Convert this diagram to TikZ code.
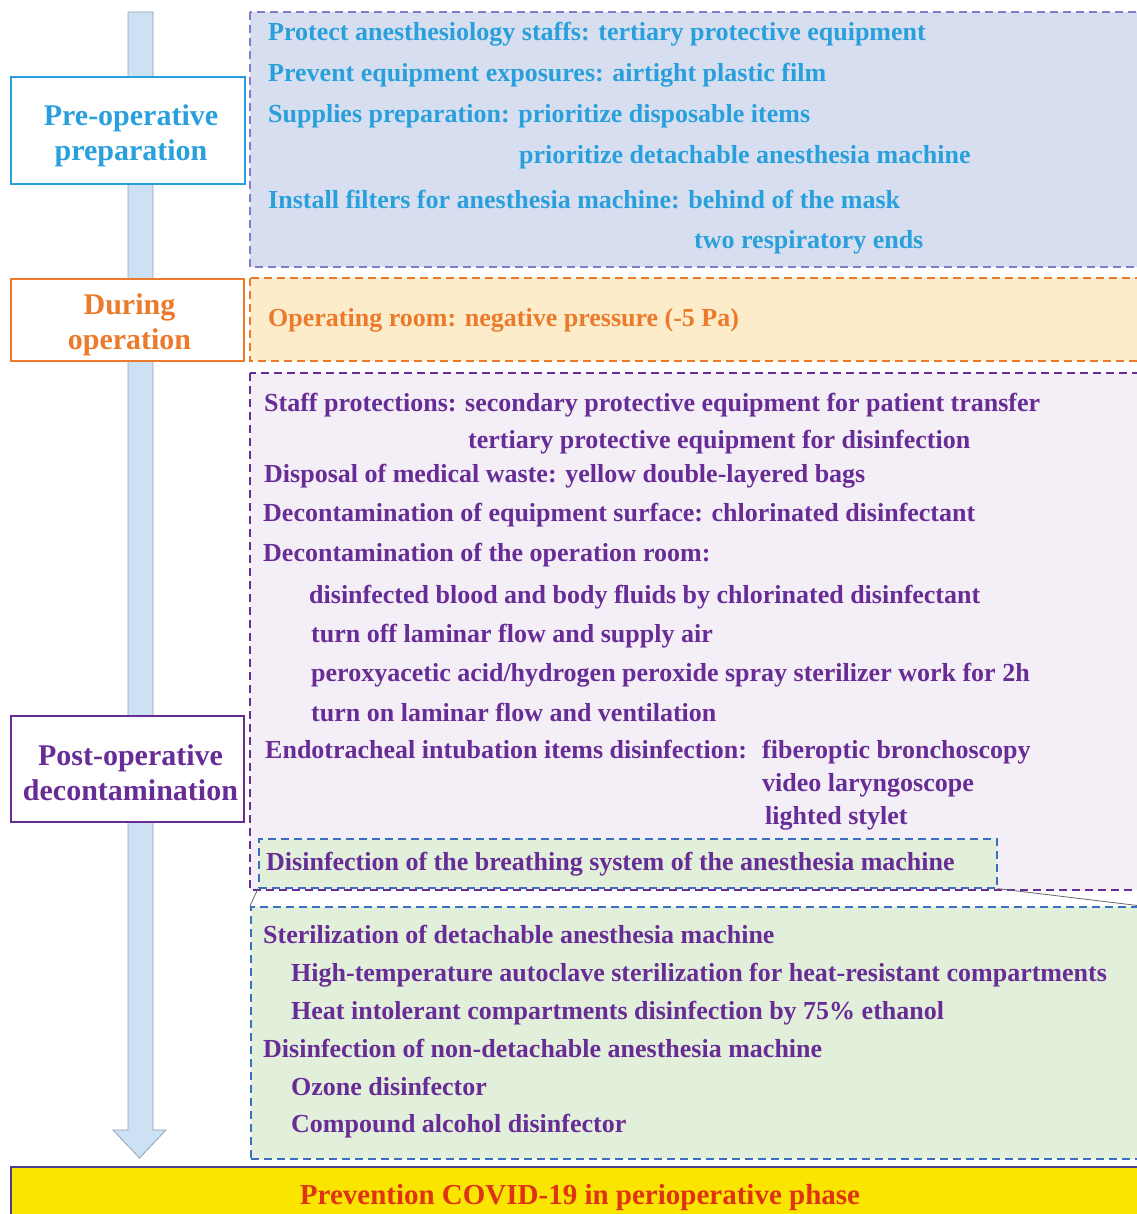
\documentclass[tikz,border=0pt]{standalone}
\usepackage{fontspec}
\setmainfont{Liberation Serif}
\definecolor{cBlue}{RGB}{41,160,220}
\definecolor{cBlueFill}{RGB}{214,222,240}
\definecolor{cBlueDash}{RGB}{128,124,200}
\definecolor{cOrange}{RGB}{236,122,44}
\definecolor{cOrangeFill}{RGB}{252,236,202}
\definecolor{cPurple}{RGB}{104,44,150}
\definecolor{cPurpleFill}{RGB}{244,239,246}
\definecolor{cGreenFill}{RGB}{226,239,218}
\definecolor{cGreenDash}{RGB}{58,112,190}
\definecolor{cArrow}{RGB}{204,225,243}
\definecolor{cArrowLine}{RGB}{140,160,185}
\definecolor{cYellow}{RGB}{249,229,0}
\definecolor{cRed}{RGB}{222,52,20}
\definecolor{cNavy}{RGB}{80,60,140}
\begin{document}
\begin{tikzpicture}[x=1pt,y=-1pt,
  region/.style={draw, line width=1.6pt, dash pattern=on 8pt off 5pt},
  phasebox/.style={draw, line width=1.6pt, fill=white},
  phaselabel/.style={align=center, inner sep=0pt, font=\fontsize{30}{35}\selectfont\bfseries},
  txt/.style={anchor=base west, inner sep=0pt, font=\fontsize{26}{30}\selectfont\bfseries},
  bluetxt/.style={txt, text=cBlue},
  purtxt/.style={txt, text=cPurple},
  linkline/.style={draw=black!60, line width=0.8pt}
]
\useasboundingbox (0,0) rectangle (1136,1214);

% regions
\path[region, draw=cBlueDash, fill=cBlueFill] (250,12) rectangle (1140,267);
\path[region, draw=cOrange, fill=cOrangeFill] (250,278) rectangle (1140,361);
\path[region, draw=cPurple, fill=cPurpleFill] (250,373) rectangle (1140,890);
\node[region, draw=cGreenDash, fill=cGreenFill, minimum width=738pt, minimum height=49pt, anchor=north west, inner sep=0pt] (inner) at (258,838) {};
\node[region, draw=cGreenDash, fill=cGreenFill, minimum width=890pt, minimum height=252pt, anchor=north west, inner sep=0pt] (green) at (250,906) {};
\draw[linkline] (inner.south west) -- (green.north west);
\draw[linkline] (inner.south east) -- (green.north east);

% big arrow
\path[fill=cArrow, draw=cArrowLine, line width=0.8pt]
  (128,12) -- (153,12) -- (153,1130) -- (166,1130) -- (139.5,1158) -- (113,1130) -- (128,1130) -- cycle;

% phase boxes
\node[phasebox, draw=cBlue, minimum width=234pt, minimum height=107pt] (pre) at (128,130.5) {};
\node[phaselabel, text=cBlue] (preL) at ([xshift=3pt,yshift=-5pt]pre.center) {Pre-operative\\preparation};
\node[phasebox, draw=cOrange, minimum width=233pt, minimum height=82pt] (during) at (127.5,320) {};
\node[phaselabel, text=cOrange] (duringL) at ([xshift=2pt,yshift=-5pt]during.center) {During\\operation};
\node[phasebox, draw=cPurple, minimum width=233pt, minimum height=106pt] (post) at (127.5,769) {};
\node[phaselabel, text=cPurple] (postL) at ([xshift=3pt,yshift=-4pt]post.center) {Post-operative\\decontamination};

% pre-operative text
\node[bluetxt] (t1) at (268,41) {Protect anesthesiology staffs: tertiary protective equipment};
\node[bluetxt] (t2) at (268,82) {Prevent equipment exposures: airtight plastic film};
\node[bluetxt] (t3) at (268,123) {Supplies preparation: prioritize disposable items};
\node[bluetxt] (t4) at (519,164) {prioritize detachable anesthesia machine};
\node[bluetxt] (t5) at (268,209) {Install filters for anesthesia machine: behind of the mask};
\node[bluetxt] (t6) at (694,249) {two respiratory ends};

% during
\node[txt, text=cOrange] (o1) at (268,326) {Operating room: negative pressure (-5 Pa)};

% post-operative
\node[purtxt] (p1) at (264,411) {Staff protections: secondary protective equipment for patient transfer};
\node[purtxt] (p2) at (468,448) {tertiary protective equipment for disinfection};
\node[purtxt] (p3) at (264,482) {Disposal of medical waste: yellow double-layered bags};
\node[purtxt] (p4) at (263,521) {Decontamination of equipment surface: chlorinated disinfectant};
\node[purtxt] (p5) at (263,561) {Decontamination of the operation room:};
\node[purtxt] (p6) at (309,603) {disinfected blood and body fluids by chlorinated disinfectant};
\node[purtxt] (p7) at (311,642) {turn off laminar flow and supply air};
\node[purtxt] (p8) at (311,681) {peroxyacetic acid/hydrogen peroxide spray sterilizer work for 2h};
\node[purtxt] (p9) at (311,721) {turn on laminar flow and ventilation};
\node[purtxt] (p10) at (265,758) {Endotracheal intubation items disinfection:};
\node[purtxt] (p11) at (762,758) {fiberoptic bronchoscopy};
\node[purtxt] (p12) at (762,791) {video laryngoscope};
\node[purtxt] (p13) at (765,824) {lighted stylet};
\node[purtxt] (p14) at (266,870) {Disinfection of the breathing system of the anesthesia machine};

% green
\node[purtxt] (g1) at (263,943) {Sterilization of detachable anesthesia machine};
\node[purtxt] (g2) at (291,981) {High-temperature autoclave sterilization for heat-resistant compartments};
\node[purtxt] (g3) at (291,1019) {Heat intolerant compartments disinfection by 75\% ethanol};
\node[purtxt] (g4) at (263,1057) {Disinfection of non-detachable anesthesia machine};
\node[purtxt] (g5) at (291,1095) {Ozone disinfector};
\node[purtxt] (g6) at (291,1132) {Compound alcohol disinfector};

% bottom bar
\path[draw=cNavy, fill=cYellow, line width=1.5pt] (11,1167) rectangle (1145,1225);
\node[anchor=base, inner sep=0pt, text=cRed, font=\fontsize{29}{33}\selectfont\bfseries] (bar) at (580,1204) {Prevention COVID-19 in perioperative phase};
\end{tikzpicture}
\end{document}
